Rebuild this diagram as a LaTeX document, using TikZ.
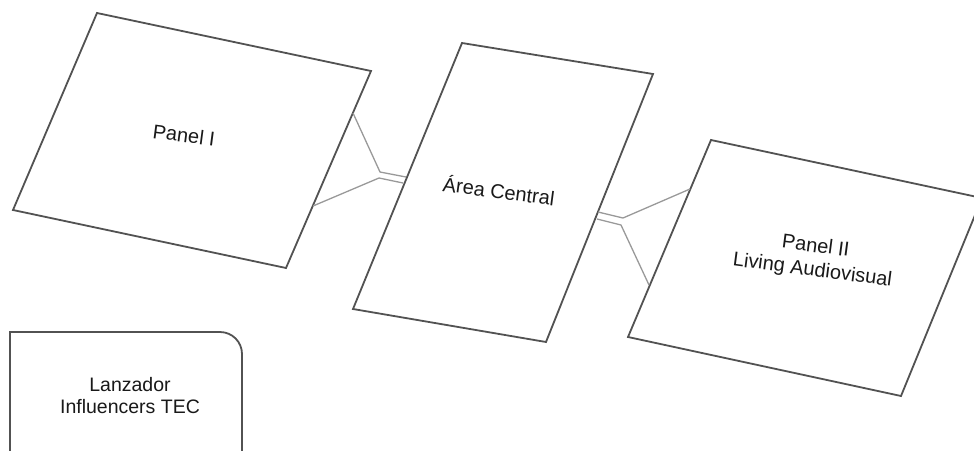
\documentclass[tikz,border=0pt]{standalone}
\usepackage{fontspec}
\setmainfont{Liberation Sans}
\begin{document}
\begin{tikzpicture}[x=1pt,y=-1pt,
  panelbox/.style={draw=black!68,line width=1.8pt,line join=miter,fill=white},
  link/.style={draw=black!40,line width=1.3pt,line join=miter},
  label/.style={font=\fontsize{20}{24}\selectfont,align=center,text=black!90,inner sep=0pt}]
\useasboundingbox (0,0) rectangle (974,450);
% corners
\coordinate (p1a) at (97,13);  \coordinate (p1b) at (371,71);
\coordinate (p1c) at (286,268); \coordinate (p1d) at (13,210);
\coordinate (ca) at (462,43);  \coordinate (cb) at (653,74);
\coordinate (cc) at (546,342); \coordinate (cd) at (353,309);
\coordinate (p2a) at (711,140); \coordinate (p2b) at (982,198);
\coordinate (p2c) at (901,396); \coordinate (p2d) at (628,337);
% connector end points
\coordinate (l1s) at (353,113); \coordinate (l1m) at (380,172); \coordinate (l1e) at (406,177);
\coordinate (l2s) at (313,206); \coordinate (l2m) at (379,178); \coordinate (l2e) at (403,183);
\coordinate (r1s) at (598,212); \coordinate (r1m) at (623,218); \coordinate (r1e) at (690,189);
\coordinate (r2s) at (597,219); \coordinate (r2m) at (621,225); \coordinate (r2e) at (649,285);
% boxes
\draw[panelbox] (p1a) -- (p1b) -- (p1c) -- (p1d) -- cycle;
\draw[panelbox] (ca) -- (cb) -- (cc) -- (cd) -- cycle;
\draw[panelbox] (p2a) -- (p2b) -- (p2c) -- (p2d) -- cycle;
\draw[panelbox] (10,460) -- (10,332) -- (220,332) arc[start angle=-90,end angle=0,radius=22] -- (242,460);
% connectors
\draw[link] (l1s) -- (l1m) -- (l1e);
\draw[link] (l2s) -- (l2m) -- (l2e);
\draw[link] (r1s) -- (r1m) -- (r1e);
\draw[link] (r2s) -- (r2m) -- (r2e);
% labels
\node[label,rotate=-7.5] (t1) at (184,135) {Panel I};
\node[label,rotate=-7.5] (tc) at (499,190) {Área Central};
\node[label,rotate=-7.5] (t2) at (814,259) {Panel II\\Living Audiovisual};
\node[label,font=\fontsize{19.5}{22}\selectfont] (tl) at (130,396) {Lanzador\\Influencers TEC};
\end{tikzpicture}
\end{document}
